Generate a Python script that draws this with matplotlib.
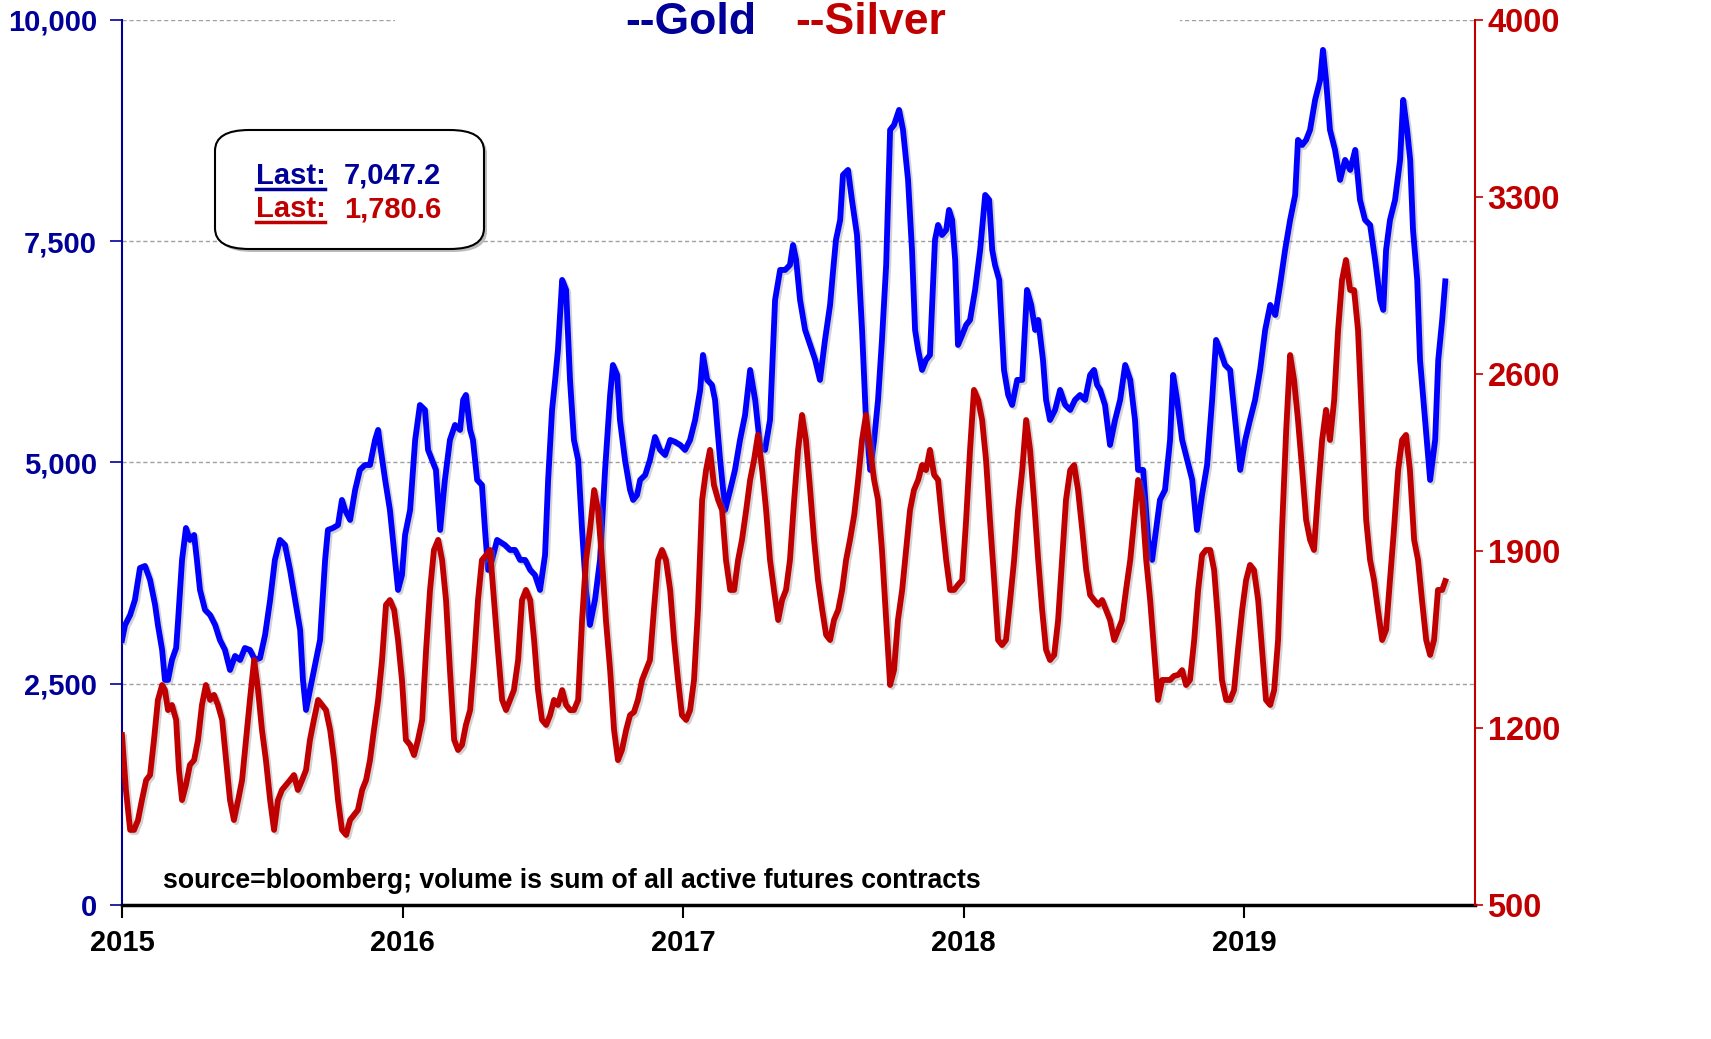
import matplotlib
matplotlib.use("Agg")
import matplotlib.pyplot as plt
import matplotlib.patheffects as pe
from matplotlib.patches import FancyBboxPatch
from matplotlib.lines import Line2D

plt.rcParams['font.family'] = ['Liberation Sans', 'DejaVu Sans']
plt.rcParams['font.weight'] = 'bold'

# ---- data: gold futures volume (left axis) ----
gold_t = [2015.000, 2015.011, 2015.029, 2015.046, 2015.064, 2015.082, 2015.100, 2015.118, 2015.128, 2015.143,
          2015.153, 2015.164, 2015.178, 2015.193, 2015.200, 2015.214, 2015.228, 2015.242, 2015.257, 2015.267,
          2015.278, 2015.296, 2015.314, 2015.332, 2015.349, 2015.367, 2015.385, 2015.403, 2015.421, 2015.438,
          2015.456, 2015.474, 2015.492, 2015.510, 2015.528, 2015.545, 2015.563, 2015.581, 2015.599, 2015.617,
          2015.635, 2015.645, 2015.656, 2015.670, 2015.688, 2015.706, 2015.724, 2015.734, 2015.752, 2015.770,
          2015.784, 2015.795, 2015.813, 2015.831, 2015.848, 2015.866, 2015.884, 2015.902, 2015.913, 2015.920,
          2015.938, 2015.955, 2015.973, 2015.984, 2015.998, 2016.009, 2016.027, 2016.045, 2016.062, 2016.080,
          2016.091, 2016.105, 2016.119, 2016.134, 2016.151, 2016.169, 2016.187, 2016.205, 2016.216, 2016.226,
          2016.241, 2016.251, 2016.266, 2016.283, 2016.294, 2016.305, 2016.319, 2016.337, 2016.365, 2016.383,
          2016.401, 2016.419, 2016.437, 2016.455, 2016.472, 2016.490, 2016.508, 2016.519, 2016.533, 2016.544,
          2016.554, 2016.569, 2016.583, 2016.597, 2016.611, 2016.626, 2016.640, 2016.654, 2016.668, 2016.686,
          2016.704, 2016.722, 2016.740, 2016.750, 2016.765, 2016.775, 2016.793, 2016.811, 2016.822, 2016.836,
          2016.847, 2016.865, 2016.882, 2016.900, 2016.918, 2016.936, 2016.954, 2016.972, 2016.990, 2017.007,
          2017.025, 2017.043, 2017.061, 2017.071, 2017.086, 2017.103, 2017.114, 2017.132, 2017.150, 2017.168,
          2017.185, 2017.203, 2017.221, 2017.239, 2017.257, 2017.274, 2017.292, 2017.310, 2017.328, 2017.346,
          2017.364, 2017.381, 2017.392, 2017.403, 2017.417, 2017.435, 2017.453, 2017.471, 2017.488, 2017.506,
          2017.524, 2017.535, 2017.545, 2017.560, 2017.570, 2017.588, 2017.602, 2017.620, 2017.638, 2017.652,
          2017.667, 2017.681, 2017.695, 2017.709, 2017.724, 2017.738, 2017.752, 2017.770, 2017.784, 2017.802,
          2017.816, 2017.827, 2017.838, 2017.852, 2017.866, 2017.880, 2017.898, 2017.909, 2017.923, 2017.938,
          2017.948, 2017.959, 2017.970, 2017.980, 2017.995, 2018.009, 2018.023, 2018.041, 2018.059, 2018.077,
          2018.091, 2018.102, 2018.112, 2018.127, 2018.144, 2018.159, 2018.173, 2018.191, 2018.209, 2018.226,
          2018.241, 2018.255, 2018.266, 2018.283, 2018.294, 2018.308, 2018.326, 2018.344, 2018.362, 2018.380,
          2018.397, 2018.415, 2018.433, 2018.451, 2018.465, 2018.476, 2018.487, 2018.504, 2018.522, 2018.540,
          2018.558, 2018.576, 2018.594, 2018.611, 2018.622, 2018.640, 2018.658, 2018.672, 2018.686, 2018.700,
          2018.718, 2018.736, 2018.747, 2018.761, 2018.779, 2018.797, 2018.815, 2018.832, 2018.850, 2018.868,
          2018.886, 2018.900, 2018.914, 2018.932, 2018.950, 2018.968, 2018.986, 2019.004, 2019.021, 2019.039,
          2019.057, 2019.075, 2019.093, 2019.111, 2019.128, 2019.146, 2019.164, 2019.182, 2019.192, 2019.207,
          2019.221, 2019.235, 2019.253, 2019.271, 2019.281, 2019.292, 2019.306, 2019.324, 2019.342, 2019.360,
          2019.378, 2019.396, 2019.413, 2019.431, 2019.449, 2019.467, 2019.485, 2019.496, 2019.506, 2019.520,
          2019.538, 2019.556, 2019.567, 2019.581, 2019.592, 2019.602, 2019.617, 2019.627, 2019.645, 2019.663,
          2019.681, 2019.692, 2019.706, 2019.717]
gold_v = [2995, 3164, 3277, 3447, 3808, 3831, 3673, 3390, 3164, 2882,
          2543, 2543, 2769, 2904, 3221, 3899, 4260, 4125, 4181, 3899,
          3560, 3334, 3277, 3164, 2995, 2882, 2656, 2814, 2769, 2904,
          2882, 2769, 2791, 3051, 3447, 3899, 4125, 4068, 3786, 3447,
          3108, 2543, 2204, 2430, 2712, 2995, 3899, 4238, 4260, 4294,
          4577, 4464, 4351, 4690, 4916, 4972, 4972, 5255, 5368, 5198,
          4803, 4464, 3899, 3560, 3729, 4181, 4464, 5255, 5650, 5594,
          5142, 5029, 4916, 4238, 4803, 5255, 5424, 5368, 5707, 5763,
          5368, 5255, 4803, 4746, 4238, 3786, 3899, 4125, 4068, 4012,
          4012, 3899, 3899, 3786, 3729, 3560, 3955, 4803, 5594, 5933,
          6272, 7063, 6950, 5933, 5255, 5029, 4238, 3560, 3164, 3447,
          3899, 4916, 5763, 6102, 5989, 5481, 5029, 4690, 4577, 4633,
          4803, 4859, 5029, 5288, 5142, 5085, 5255, 5232, 5198, 5142,
          5255, 5481, 5820, 6215, 5933, 5876, 5707, 5029, 4464, 4690,
          4916, 5255, 5537, 6046, 5707, 5198, 5142, 5481, 6837, 7176,
          7176, 7232, 7458, 7289, 6837, 6498, 6328, 6159, 5933, 6385,
          6780, 7176, 7515, 7741, 8249, 8306, 7967, 7571, 6498, 5481,
          4916, 5255, 5707, 6385, 7232, 8758, 8814, 8984, 8758, 8193,
          7402, 6498, 6272, 6046, 6159, 6215, 7515, 7684, 7571, 7628,
          7854, 7741, 7289, 6328, 6441, 6554, 6611, 6950, 7402, 8023,
          7967, 7402, 7232, 7063, 6046, 5763, 5650, 5933, 5933, 6950,
          6780, 6498, 6611, 6159, 5707, 5481, 5594, 5820, 5650, 5594,
          5707, 5763, 5707, 5989, 6046, 5876, 5820, 5650, 5198, 5481,
          5707, 6102, 5933, 5481, 4916, 4916, 4125, 3899, 4238, 4577,
          4690, 5255, 5989, 5707, 5255, 5029, 4803, 4238, 4633, 4972,
          5707, 6385, 6272, 6102, 6046, 5481, 4916, 5255, 5481, 5707,
          6046, 6498, 6780, 6667, 7006, 7402, 7741, 8023, 8645, 8588,
          8645, 8758, 9097, 9323, 9662, 9323, 8758, 8532, 8193, 8419,
          8306, 8532, 7967, 7741, 7684, 7289, 6837, 6724, 7402, 7741,
          7967, 8419, 9097, 8758, 8419, 7628, 7063, 6159, 5481, 4803,
          5255, 6159, 6611, 7047]

# ---- data: silver futures volume (right axis) ----
silver_t = [2015.000, 2015.014, 2015.029, 2015.043, 2015.057, 2015.071, 2015.086, 2015.100, 2015.114, 2015.128,
            2015.143, 2015.153, 2015.164, 2015.178, 2015.193, 2015.203, 2015.214, 2015.228, 2015.242, 2015.257,
            2015.271, 2015.285, 2015.299, 2015.314, 2015.328, 2015.342, 2015.357, 2015.371, 2015.385, 2015.399,
            2015.414, 2015.428, 2015.442, 2015.456, 2015.471, 2015.485, 2015.499, 2015.513, 2015.528, 2015.542,
            2015.556, 2015.570, 2015.585, 2015.599, 2015.613, 2015.627, 2015.642, 2015.656, 2015.670, 2015.684,
            2015.699, 2015.713, 2015.727, 2015.742, 2015.756, 2015.770, 2015.784, 2015.799, 2015.813, 2015.827,
            2015.841, 2015.856, 2015.870, 2015.884, 2015.898, 2015.913, 2015.927, 2015.941, 2015.955, 2015.970,
            2015.984, 2015.998, 2016.012, 2016.027, 2016.041, 2016.055, 2016.070, 2016.084, 2016.098, 2016.112,
            2016.127, 2016.141, 2016.155, 2016.169, 2016.184, 2016.198, 2016.212, 2016.226, 2016.241, 2016.255,
            2016.269, 2016.283, 2016.298, 2016.312, 2016.326, 2016.340, 2016.355, 2016.369, 2016.383, 2016.397,
            2016.412, 2016.426, 2016.440, 2016.455, 2016.469, 2016.483, 2016.497, 2016.512, 2016.526, 2016.540,
            2016.554, 2016.569, 2016.583, 2016.597, 2016.611, 2016.626, 2016.640, 2016.654, 2016.668, 2016.683,
            2016.697, 2016.711, 2016.725, 2016.740, 2016.754, 2016.768, 2016.782, 2016.797, 2016.811, 2016.825,
            2016.839, 2016.854, 2016.868, 2016.882, 2016.896, 2016.911, 2016.925, 2016.939, 2016.954, 2016.968,
            2016.982, 2016.996, 2017.011, 2017.025, 2017.039, 2017.053, 2017.068, 2017.082, 2017.096, 2017.110,
            2017.125, 2017.139, 2017.153, 2017.168, 2017.182, 2017.196, 2017.210, 2017.225, 2017.239, 2017.253,
            2017.267, 2017.282, 2017.296, 2017.310, 2017.324, 2017.339, 2017.353, 2017.367, 2017.381, 2017.396,
            2017.410, 2017.424, 2017.438, 2017.453, 2017.467, 2017.481, 2017.496, 2017.510, 2017.524, 2017.538,
            2017.553, 2017.567, 2017.581, 2017.595, 2017.610, 2017.624, 2017.638, 2017.652, 2017.667, 2017.681,
            2017.695, 2017.709, 2017.724, 2017.738, 2017.752, 2017.766, 2017.781, 2017.795, 2017.809, 2017.823,
            2017.838, 2017.852, 2017.866, 2017.880, 2017.895, 2017.909, 2017.923, 2017.938, 2017.952, 2017.966,
            2017.980, 2017.995, 2018.009, 2018.023, 2018.037, 2018.052, 2018.066, 2018.080, 2018.094, 2018.109,
            2018.123, 2018.137, 2018.151, 2018.166, 2018.180, 2018.194, 2018.209, 2018.223, 2018.237, 2018.251,
            2018.266, 2018.280, 2018.294, 2018.308, 2018.323, 2018.337, 2018.351, 2018.365, 2018.380, 2018.394,
            2018.408, 2018.423, 2018.437, 2018.451, 2018.465, 2018.480, 2018.494, 2018.508, 2018.522, 2018.537,
            2018.551, 2018.565, 2018.579, 2018.594, 2018.608, 2018.622, 2018.636, 2018.651, 2018.665, 2018.679,
            2018.693, 2018.708, 2018.722, 2018.736, 2018.750, 2018.765, 2018.779, 2018.793, 2018.807, 2018.822,
            2018.836, 2018.850, 2018.864, 2018.879, 2018.893, 2018.907, 2018.921, 2018.936, 2018.950, 2018.964,
            2018.978, 2018.993, 2019.007, 2019.021, 2019.035, 2019.050, 2019.064, 2019.078, 2019.093, 2019.107,
            2019.121, 2019.135, 2019.150, 2019.164, 2019.178, 2019.192, 2019.207, 2019.221, 2019.235, 2019.249,
            2019.264, 2019.278, 2019.292, 2019.306, 2019.321, 2019.335, 2019.349, 2019.363, 2019.378, 2019.392,
            2019.406, 2019.420, 2019.435, 2019.449, 2019.463, 2019.477, 2019.492, 2019.506, 2019.520, 2019.534,
            2019.549, 2019.563, 2019.577, 2019.591, 2019.606, 2019.620, 2019.634, 2019.649, 2019.663, 2019.677,
            2019.691, 2019.706, 2019.717]
silver_v = [1172, 955, 797, 797, 836, 915, 994, 1014, 1153, 1311,
            1370, 1350, 1271, 1291, 1232, 1034, 915, 975, 1054, 1073,
            1153, 1291, 1370, 1311, 1331, 1291, 1232, 1073, 915, 836,
            915, 994, 1153, 1311, 1469, 1350, 1192, 1073, 915, 797,
            915, 955, 975, 994, 1014, 955, 994, 1034, 1153, 1232,
            1311, 1291, 1271, 1192, 1073, 915, 797, 777, 836, 856,
            876, 955, 994, 1073, 1192, 1311, 1469, 1687, 1706, 1667,
            1548, 1390, 1153, 1133, 1093, 1153, 1232, 1509, 1746, 1904,
            1944, 1864, 1706, 1429, 1153, 1113, 1133, 1212, 1271, 1469,
            1706, 1864, 1884, 1904, 1706, 1509, 1311, 1271, 1311, 1350,
            1469, 1706, 1746, 1706, 1548, 1350, 1232, 1212, 1251, 1311,
            1291, 1350, 1291, 1271, 1271, 1311, 1627, 1864, 1983, 2141,
            2062, 1864, 1627, 1429, 1192, 1073, 1113, 1192, 1251, 1263,
            1311, 1390, 1429, 1469, 1667, 1864, 1904, 1864, 1746, 1548,
            1390, 1251, 1232, 1271, 1390, 1667, 2102, 2220, 2300, 2161,
            2102, 2062, 1864, 1746, 1746, 1864, 1944, 2062, 2181, 2260,
            2359, 2220, 2062, 1864, 1746, 1627, 1706, 1746, 1864, 2102,
            2300, 2438, 2339, 2141, 1944, 1785, 1667, 1568, 1548, 1627,
            1667, 1746, 1864, 1944, 2042, 2181, 2339, 2438, 2300, 2181,
            2102, 1904, 1627, 1370, 1429, 1627, 1746, 1904, 2062, 2141,
            2181, 2240, 2220, 2300, 2201, 2181, 2023, 1864, 1746, 1746,
            1766, 1785, 2023, 2300, 2537, 2497, 2418, 2260, 2023, 1785,
            1548, 1528, 1548, 1706, 1864, 2062, 2220, 2418, 2300, 2102,
            1864, 1667, 1509, 1469, 1489, 1627, 1864, 2102, 2220, 2240,
            2141, 1983, 1825, 1726, 1706, 1687, 1706, 1667, 1627, 1548,
            1588, 1627, 1746, 1864, 2023, 2181, 2102, 1864, 1706, 1509,
            1311, 1390, 1390, 1390, 1406, 1410, 1429, 1370, 1390, 1548,
            1746, 1884, 1904, 1904, 1825, 1627, 1390, 1311, 1311, 1350,
            1509, 1667, 1785, 1845, 1825, 1706, 1509, 1311, 1291, 1350,
            1548, 1983, 2379, 2675, 2576, 2418, 2220, 2023, 1944, 1904,
            2141, 2339, 2458, 2339, 2497, 2774, 2972, 3051, 2932, 2932,
            2774, 2418, 2023, 1864, 1785, 1667, 1548, 1588, 1785, 1983,
            2220, 2339, 2359, 2220, 1944, 1864, 1706, 1548, 1489, 1548,
            1746, 1746, 1781]

year_ticks = [2015, 2016, 2017, 2018, 2019]
gold_ticks = [0, 2500, 5000, 7500, 10000]
gold_tick_labels = ['0', '2,500', '5,000', '7,500', '10,000']
silver_ticks = [500, 1200, 1900, 2600, 3300, 4000]
gold_last = '7,047.2'
silver_last = '1,780.6'

NAVY = '#000099'
BLUE = '#0000FF'
RED = '#C00000'

fig = plt.figure(figsize=(17.11, 10.39), dpi=100)
ax = fig.add_axes([122/1711, 1 - 905/1039, (1475 - 122)/1711, (905 - 20)/1039])
ax2 = ax.twinx()

shadow = [pe.SimpleLineShadow(offset=(1.5, -1.5), shadow_color='gray', alpha=0.35), pe.Normal()]
ax.plot(gold_t, gold_v, color=BLUE, lw=4.2, solid_joinstyle='round', path_effects=shadow, zorder=3)
ax2.plot(silver_t, silver_v, color=RED, lw=4.2, solid_joinstyle='round', path_effects=shadow, zorder=3)

ax.set_xlim(2015, 2019.823)
ax.set_ylim(0, 10000)
ax2.set_ylim(500, 4000)

for v in gold_ticks[1:]:
    ax.axhline(v, color='#A0A0A0', lw=1, ls=(0, (3, 2)), zorder=1)

ax.set_yticks(gold_ticks)
ax.set_yticklabels(gold_tick_labels)
ax2.set_yticks(silver_ticks)
ax2.set_yticklabels([str(v) for v in silver_ticks])
ax.set_xticks(year_ticks)
ax.set_xticklabels([str(y) for y in year_ticks])

ax.tick_params(axis='y', colors=NAVY, labelsize=21, length=9, width=1.2, direction='out', pad=9)
ax2.tick_params(axis='y', colors=RED, labelsize=23.5, length=6, width=1.2, direction='out', pad=3)
ax.tick_params(axis='x', colors='black', labelsize=21, length=9, width=1.5, direction='out', pad=8)
for lab in ax.get_yticklabels() + ax2.get_yticklabels() + ax.get_xticklabels():
    lab.set_fontweight('bold')

for a in (ax, ax2):
    a.spines['top'].set_visible(False)
    a.patch.set_visible(False)
ax2.spines['left'].set_visible(False)
ax2.spines['bottom'].set_visible(False)
ax.spines['right'].set_visible(False)
ax.spines['left'].set_color(NAVY)
ax.spines['left'].set_linewidth(1.5)
ax2.spines['right'].set_color(RED)
ax2.spines['right'].set_linewidth(1.5)
ax.spines['bottom'].set_color('black')
ax.spines['bottom'].set_linewidth(2.5)

# title
fig.patches.append(FancyBboxPatch((395/1711, 1 - 40/1039), (1180 - 395)/1711, 30/1039,
                                  boxstyle='square,pad=0', transform=fig.transFigure,
                                  facecolor='white', edgecolor='none', zorder=2))
fig.text(756/1711, 1 - 22/1039, '--Gold', color=NAVY, fontsize=32, fontweight='bold', ha='right', va='center', zorder=3)
fig.text(795/1711, 1 - 22/1039, '--Silver', color=RED, fontsize=32, fontweight='bold', ha='left', va='center', zorder=3)

# "Last" box
box = FancyBboxPatch((215/1711, 1 - 249/1039), (484 - 215)/1711, (249 - 130)/1039,
                     boxstyle='round,pad=0,rounding_size=0.02', transform=fig.transFigure,
                     facecolor='white', edgecolor='black', lw=1.5, zorder=5)
shadow_box = FancyBboxPatch((218/1711, 1 - 252/1039), (484 - 215)/1711, (249 - 130)/1039,
                            boxstyle='round,pad=0,rounding_size=0.02', transform=fig.transFigure,
                            facecolor='#BBBBBB', edgecolor='none', zorder=4)
fig.patches.append(shadow_box)
fig.patches.append(box)

y1 = 1 - 176/1039
y2 = 1 - 209/1039
fig.text(256/1711, y1, 'Last:', color=NAVY, fontsize=21, fontweight='bold', va='center', ha='left', zorder=6)
fig.text(344/1711, y1, gold_last, color=NAVY, fontsize=21, fontweight='bold', va='center', ha='left', zorder=6)
fig.text(256/1711, y2, 'Last:', color=RED, fontsize=21, fontweight='bold', va='center', ha='left', zorder=6)
fig.text(344/1711, y2, silver_last, color=RED, fontsize=21, fontweight='bold', va='center', ha='left', zorder=6)
fig.add_artist(Line2D([256/1711, 325/1711], [1 - 189/1039, 1 - 189/1039], color=NAVY, lw=2.5, zorder=6))
fig.add_artist(Line2D([256/1711, 325/1711], [1 - 222/1039, 1 - 222/1039], color=RED, lw=2.5, zorder=6))

fig.text(163/1711, 1 - 881/1039, 'source=bloomberg; volume is sum of all active futures contracts',
         color='black', fontsize=19.2, fontweight='bold', va='center', ha='left')

fig.savefig('out.png', dpi=100, facecolor='white')
